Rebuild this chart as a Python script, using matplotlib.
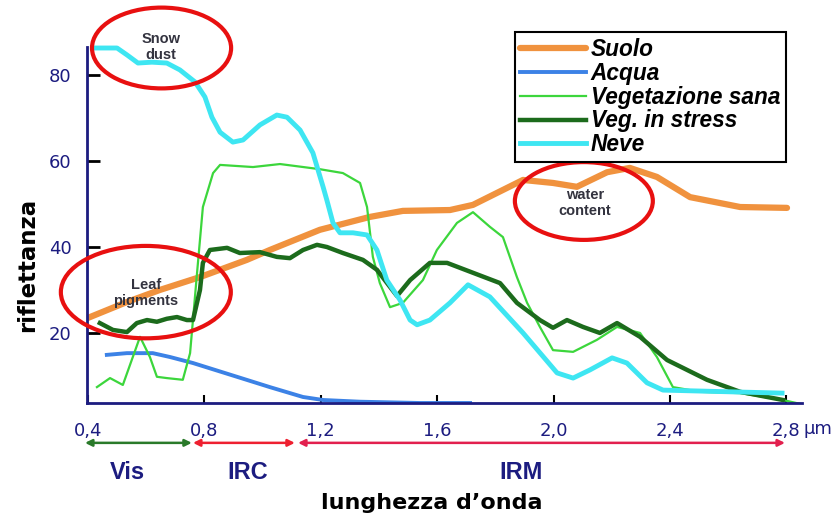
import matplotlib.pyplot as plt
import matplotlib.transforms as mtransforms
from matplotlib.patches import Ellipse

# lunghezza d'onda (µm) / riflettanza (%)
suolo_x = [0.40, 0.534, 0.647, 0.785, 0.946, 1.025, 1.197, 1.369, 1.482, 1.644, 1.723,
           1.895, 1.998, 2.080, 2.184, 2.262, 2.355, 2.469, 2.641, 2.802]
suolo_y = [23.5, 27.2, 30.0, 33.0, 37.0, 39.3, 44.0, 47.0, 48.4, 48.6, 49.8,
           55.6, 54.9, 54.0, 57.4, 58.4, 56.3, 51.6, 49.3, 49.1]

acqua_x = [0.465, 0.534, 0.623, 0.682, 0.761, 0.912, 1.025, 1.139, 1.208, 1.335, 1.541, 1.713]
acqua_y = [14.9, 15.3, 15.3, 14.4, 13.0, 9.8, 7.4, 5.1, 4.4, 4.0, 3.7, 3.7]

sana_x = [0.431, 0.476, 0.520, 0.579, 0.613, 0.637, 0.671, 0.726, 0.751, 0.775, 0.795,
          0.830, 0.854, 0.967, 1.060, 1.197, 1.276, 1.335, 1.359, 1.379, 1.403, 1.438,
          1.482, 1.551, 1.599, 1.668, 1.723, 1.781, 1.826, 1.874, 1.909, 1.953, 1.998,
          2.067, 2.149, 2.218, 2.297, 2.355, 2.410, 2.503, 2.641, 2.788, 2.847]
sana_y = [7.4, 9.5, 7.9, 19.1, 14.4, 9.8, 9.5, 9.1, 15.3, 34.0, 49.3,
          57.2, 59.1, 58.6, 59.3, 58.1, 57.2, 54.9, 49.3, 37.7, 31.6, 26.0,
          27.0, 32.3, 39.3, 45.6, 48.1, 44.7, 42.3, 33.0, 27.0, 21.4, 16.0,
          15.6, 18.4, 21.4, 20.0, 14.4, 7.4, 6.3, 6.0, 4.4, 3.5]

stress_x = [0.441, 0.486, 0.534, 0.568, 0.603, 0.637, 0.671, 0.706, 0.740, 0.761, 0.785,
            0.795, 0.819, 0.878, 0.922, 0.991, 1.049, 1.094, 1.139, 1.187, 1.221, 1.276,
            1.345, 1.393, 1.438, 1.462, 1.507, 1.575, 1.634, 1.723, 1.816, 1.874, 1.953,
            1.998, 2.046, 2.101, 2.159, 2.218, 2.297, 2.390, 2.527, 2.641, 2.788]
stress_y = [22.3, 20.7, 20.2, 22.3, 23.0, 22.6, 23.3, 23.7, 23.0, 23.0, 30.0,
            36.3, 39.3, 39.8, 38.6, 38.8, 37.7, 37.4, 39.3, 40.5, 40.0, 38.6,
            37.0, 34.7, 30.7, 28.6, 32.3, 36.3, 36.3, 34.0, 31.6, 27.0, 23.0,
            21.2, 23.0, 21.4, 20.0, 22.3, 19.1, 13.7, 9.1, 6.3, 4.4]

neve_x = [0.424, 0.50, 0.534, 0.572, 0.62, 0.671, 0.716, 0.768, 0.802, 0.826, 0.854,
          0.898, 0.933, 0.991, 1.049, 1.084, 1.129, 1.173, 1.208, 1.221, 1.242, 1.266,
          1.311, 1.359, 1.393, 1.427, 1.472, 1.507, 1.531, 1.575, 1.644, 1.706, 1.781,
          1.895, 2.012, 2.067, 2.125, 2.201, 2.252, 2.321, 2.376, 2.785]
neve_y = [86.3, 86.3, 84.7, 82.8, 83.0, 82.8, 81.2, 78.4, 74.9, 70.2, 66.7,
          64.4, 64.9, 68.4, 70.7, 70.2, 67.2, 61.9, 54.0, 50.9, 45.6, 43.3,
          43.3, 42.8, 39.3, 32.3, 27.7, 23.0, 21.9, 23.0, 27.0, 31.2, 28.4,
          20.0, 10.7, 9.5, 11.4, 14.2, 13.0, 8.4, 6.7, 6.0]

x_ticks = [0.4, 0.8, 1.2, 1.6, 2.0, 2.4, 2.8]
x_labels = ["0,4", "0,8", "1,2", "1,6", "2,0", "2,4", "2,8"]
y_ticks = [20, 40, 60, 80]

navy = "#1c1c80"

fig = plt.figure(figsize=(8.37, 5.18), dpi=100)
ax = fig.add_axes([0.104, 0.222, 0.854, 0.687])

ax.plot(suolo_x, suolo_y, color="#f0923e", lw=4.5, label="Suolo", solid_capstyle="round")
ax.plot(acqua_x, acqua_y, color="#3c82e6", lw=2.8, label="Acqua")
ax.plot(sana_x, sana_y, color="#3cd63c", lw=1.6, label="Vegetazione sana")
ax.plot(stress_x, stress_y, color="#1c6b1c", lw=3.2, label="Veg. in stress")
ax.plot(neve_x, neve_y, color="#3ee6f2", lw=3.5, label="Neve", clip_on=False)

ax.set_xlim(0.397, 2.853)
ax.set_ylim(3.7, 86.5)

for s in ["top", "right"]:
    ax.spines[s].set_visible(False)
for s in ["left", "bottom"]:
    ax.spines[s].set_color(navy)
    ax.spines[s].set_linewidth(2)

ax.set_yticks(y_ticks)
ax.set_xticks(x_ticks)
ax.set_xticklabels(x_labels)
ax.tick_params(axis="y", direction="in", length=9.5, width=2, color="black",
               labelcolor=navy, labelsize=13, pad=11)
ax.tick_params(axis="x", direction="in", length=6, width=1.5, color="black",
               labelcolor=navy, labelsize=13, pad=14)

trans = mtransforms.blended_transform_factory(ax.transData, ax.transAxes)
ax.text(2.858, -0.074, "µm", transform=trans, color=navy, fontsize=13,
        ha="left", va="center")

# bande spettrali
bande = [(0.39, 0.757, "#2a7a2a", "Vis", 0.534),
         (0.761, 1.111, "#ee2030", "IRC", 0.95),
         (1.122, 2.795, "#e2204e", "IRM", 1.888)]
for x0, x1, col, nome, xt in bande:
    ax.annotate("", xy=(x1, -0.112), xytext=(x0, -0.112), xycoords=trans,
                textcoords=trans,
                arrowprops=dict(arrowstyle="<|-|>", color=col, lw=1.8,
                                mutation_scale=10, shrinkA=0, shrinkB=0))
    ax.text(xt, -0.194, nome, transform=trans, color=navy, fontsize=17,
            fontweight="bold", family="Liberation Sans", ha="center", va="center")

# cerchi rossi
note = [(0.653, 86.3, 0.478, 18.8, "Snow\ndust", 0.651, 86.5),
        (0.599, 29.5, 0.584, 21.5, "Leaf\npigments", 0.599, 29.3),
        (2.104, 50.7, 0.474, 18.1, "water\ncontent", 2.108, 50.2)]
for cx, cy, w, h, testo, tx, ty in note:
    ax.add_patch(Ellipse((cx, cy), w, h, fill=False, edgecolor="#e81010",
                         lw=3, clip_on=False, zorder=5))
    ax.text(tx, ty, testo, color="#33333f", fontsize=10.5, fontweight="bold",
            family="Liberation Sans", ha="center", va="center", zorder=6)

leg = ax.legend(loc="upper left", bbox_to_anchor=(0.615, 0.938),
                bbox_transform=fig.transFigure, frameon=True, fancybox=False,
                handlelength=2.9, handletextpad=0.2, labelspacing=0.04,
                borderpad=0.25, borderaxespad=0,
                prop=dict(family="Liberation Sans", weight="bold", style="italic",
                          size=16.3))
leg.get_frame().set_edgecolor("black")
leg.get_frame().set_linewidth(1.5)
leg.get_frame().set_alpha(1)

fig.text(0.516, 0.029, "lunghezza d’onda", fontsize=16, fontweight="bold",
         ha="center", va="center")
fig.text(0.033, 0.488, "riflettanza", fontsize=16.5, fontweight="bold",
         rotation=90, ha="center", va="center")

fig.savefig("out.png", dpi=100)
